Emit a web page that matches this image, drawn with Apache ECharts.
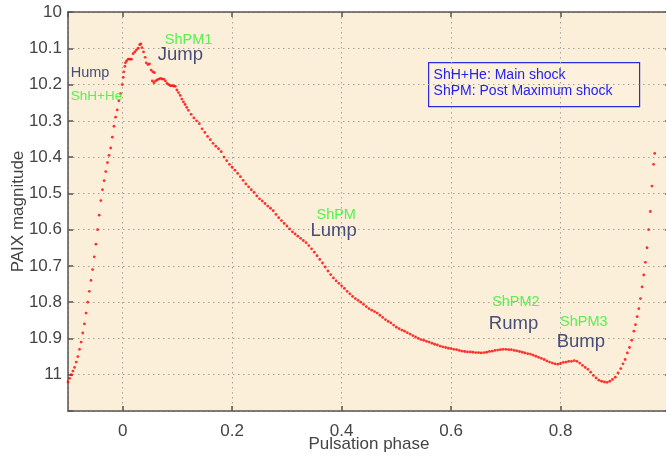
<!DOCTYPE html>
<html>
<head>
<meta charset="utf-8">
<script src="https://cdn.jsdelivr.net/npm/echarts@6/dist/echarts.min.js"></script>
<style>html,body{margin:0;padding:0;background:#fff}#c{width:666px;height:456px}</style>
</head>
<body>
<div id="c"></div>
<script>
// Pulsation phase (x) and PAIX magnitude (y)
const phase = [
-0.100,-0.097,-0.094,-0.091,-0.088,-0.085,-0.082,-0.079,-0.076,-0.073,-0.070,-0.067,-0.064,-0.061,-0.058,-0.055,-0.052,-0.049,-0.046,-0.043,
-0.040,-0.037,-0.034,-0.031,-0.028,-0.025,-0.022,-0.019,-0.016,-0.013,-0.010,-0.007,-0.004,-0.001,0.001,0.002,0.004,0.005,0.007,0.010,
0.013,0.016,0.019,0.022,0.025,0.028,0.031,0.033,0.035,0.038,0.041,0.043,0.046,0.049,0.052,0.055,0.058,
0.054,0.057,0.060,0.063,0.066,0.069,0.072,0.075,0.078,0.081,0.084,0.087,0.090,0.093,0.096,0.099,0.102,0.105,0.108,0.111,0.114,0.117,0.120,
0.125,0.130,0.135,0.140,0.145,0.150,0.155,0.160,0.165,0.170,0.175,0.180,0.185,0.190,0.195,0.200,0.205,0.210,0.215,0.220,
0.225,0.230,0.235,0.240,0.245,0.250,0.255,0.260,0.265,0.270,0.275,0.280,0.285,0.290,0.295,0.300,0.305,0.310,0.315,0.320,
0.325,0.330,0.335,0.340,0.345,0.350,0.355,0.360,0.365,0.370,0.375,0.380,0.385,0.390,0.395,0.400,0.405,0.410,0.415,0.420,
0.425,0.430,0.435,0.440,0.445,0.450,0.455,0.460,0.465,0.470,0.475,0.480,0.485,0.490,0.495,0.500,0.505,0.510,0.515,0.520,
0.525,0.530,0.535,0.540,0.545,0.550,0.555,0.560,0.565,0.570,0.575,0.580,0.585,0.590,0.595,0.600,0.605,0.610,0.615,0.620,
0.625,0.630,0.635,0.640,0.645,0.650,0.655,0.660,0.665,0.670,0.675,0.680,0.685,0.690,0.695,0.700,0.705,0.710,0.715,0.720,
0.725,0.730,0.735,0.740,0.745,0.750,0.755,0.760,0.765,0.770,0.775,0.780,0.785,0.790,0.795,0.800,0.805,0.810,0.815,0.820,
0.825,0.830,0.835,0.840,0.845,0.850,0.855,0.860,0.865,0.870,0.875,0.880,0.885,0.890,0.895,0.900,0.905,0.910,
0.914,0.918,0.922,0.926,0.930,0.934,0.937,0.940,0.943,0.946,0.949,0.952,0.955,0.958,0.961,0.964,0.967,0.970,0.972
];
const magnitude = [
11.02,11.01,11.00,10.99,10.98,10.965,10.95,10.93,10.91,10.885,10.86,10.83,10.80,10.77,10.74,10.71,10.675,10.64,10.60,10.56,
10.52,10.49,10.465,10.44,10.415,10.395,10.375,10.345,10.315,10.29,10.27,10.245,10.225,10.20,10.18,10.165,10.15,10.14,10.135,10.13,
10.13,10.13,10.115,10.11,10.105,10.10,10.09,10.088,10.098,10.11,10.125,10.14,10.145,10.143,10.16,10.165,10.167,
10.19,10.195,10.19,10.187,10.185,10.183,10.185,10.185,10.19,10.197,10.20,10.203,10.203,10.204,10.205,10.215,10.222,10.23,10.24,10.248,10.255,10.263,10.271,
10.282,10.292,10.30,10.308,10.322,10.332,10.343,10.352,10.362,10.37,10.377,10.385,10.40,10.41,10.42,10.428,10.436,10.445,10.454,10.464,
10.474,10.482,10.49,10.497,10.507,10.515,10.521,10.528,10.535,10.541,10.548,10.558,10.567,10.575,10.583,10.59,10.598,10.606,10.612,10.618,
10.624,10.63,10.636,10.644,10.653,10.662,10.672,10.682,10.692,10.703,10.714,10.724,10.733,10.741,10.748,10.755,10.762,10.77,10.777,10.784,
10.79,10.795,10.80,10.806,10.812,10.818,10.822,10.826,10.83,10.836,10.842,10.848,10.853,10.857,10.863,10.869,10.873,10.877,10.88,10.884,
10.888,10.892,10.896,10.90,10.903,10.905,10.908,10.91,10.913,10.916,10.918,10.921,10.923,10.925,10.927,10.928,10.93,10.931,10.933,10.935,
10.936,10.937,10.937,10.938,10.939,10.939,10.94,10.939,10.938,10.936,10.935,10.933,10.932,10.931,10.93,10.93,10.931,10.931,10.933,10.934,
10.936,10.938,10.94,10.942,10.943,10.946,10.949,10.952,10.955,10.958,10.962,10.965,10.968,10.97,10.971,10.969,10.966,10.965,10.963,10.963,
10.961,10.963,10.968,10.974,10.98,10.985,10.993,11.002,11.009,11.015,11.018,11.02,11.021,11.018,11.013,11.007,10.995,10.983,
10.97,10.958,10.94,10.925,10.905,10.88,10.862,10.84,10.818,10.79,10.758,10.725,10.69,10.65,10.60,10.55,10.48,10.42,10.39
];
// Annotations (text, phase, magnitude, kind)
const annoText  = ['Hump','ShH+He','ShPM1','Jump','ShPM','Lump','ShPM2','Rump','ShPM3','Bump'];
const annoPhase = [-0.095,-0.095,0.077,0.064,0.354,0.343,0.675,0.669,0.799,0.793];
const annoMag   = [10.168,10.231,10.077,10.118,10.560,10.604,10.800,10.860,10.854,10.909];
const annoKind  = ['name','shockS','shock','nameL','shock','nameL','shock','nameL','shock','nameL'];
const boxLines  = ['ShH+He: Main shock','ShPM: Post Maximum shock'];
const yTicks = [10,10.1,10.2,10.3,10.4,10.5,10.6,10.7,10.8,10.9,11];

const pts = phase.map((p,i)=>[p, magnitude[i]]);
const styles = {
  name:   {color:'#172463', fontSize:14.5},
  nameL:  {color:'#172463', fontSize:18.5},
  shock:  {color:'#2ef02e', fontSize:14.5},
  shockS: {color:'#2ef02e', fontSize:13.5}
};
const annoData = annoText.map((t,i)=>({
  value:[annoPhase[i], annoMag[i]],
  label:Object.assign({show:true, formatter:t, position:[0,0], align:'left', verticalAlign:'middle', fontFamily:'Liberation Sans'}, styles[annoKind[i]])
}));

const font = 'Liberation Sans';
const axisCol = '#555';
const gridLine = {show:true, lineStyle:{color:'#a8a39a', type:[1.5,3.5], width:1}};
const chart = echarts.init(document.getElementById('c'), null, {renderer:'canvas'});
chart.setOption({
  animation:false,
  backgroundColor:'#ffffff',
  grid:{left:68, top:12, right:-4, bottom:45, outerBoundsMode:'none', containLabel:false,
        show:true, backgroundColor:'#fcefda', borderWidth:0},
  xAxis:[{
    type:'value', min:-0.1, max:1.0, splitNumber:5,
    name:'Pulsation phase', nameLocation:'middle', nameGap:25, nameMoveOverlap:false,
    nameTextStyle:{fontFamily:font, fontSize:17, color:'#444'},
    axisLine:{show:true, onZero:false, lineStyle:{color:axisCol, width:1.5}},
    axisTick:{show:true, inside:true, length:5, lineStyle:{color:axisCol, width:1.5}},
    axisLabel:{showMinLabel:false, fontFamily:font, fontSize:17, color:'#444', margin:12,
      formatter:v=>String(Math.round(v*10)/10)},
    splitLine:gridLine
  },{
    type:'value', min:-0.1, max:1.0, splitNumber:5, position:'top',
    axisLine:{show:true, onZero:false, lineStyle:{color:axisCol, width:1.5}},
    axisTick:{show:true, inside:true, length:5, lineStyle:{color:axisCol, width:1.5}},
    axisLabel:{show:false}, splitLine:{show:false}
  }],
  yAxis:[{
    type:'value', inverse:true, min:10, max:11.1, interval:0.1,
    name:'PAIX magnitude', nameLocation:'middle', nameGap:41, nameMoveOverlap:false,
    nameTextStyle:{fontFamily:font, fontSize:17, color:'#444'},
    axisLine:{show:true, onZero:false, lineStyle:{color:axisCol, width:1.5}},
    axisTick:{show:true, inside:true, length:5, lineStyle:{color:axisCol, width:1.5}},
    axisLabel:{fontFamily:font, fontSize:17, color:'#444', margin:6,
      formatter:v=>{const r=Math.round(v*10)/10; return yTicks.indexOf(r)>=0 ? String(r) : '';}},
    splitLine:gridLine
  },{
    type:'value', inverse:true, min:10, max:11.1, interval:0.1, position:'right',
    axisLine:{show:true, onZero:false, lineStyle:{color:axisCol, width:1.5}},
    axisTick:{show:true, inside:true, length:5, lineStyle:{color:axisCol, width:1.5}},
    axisLabel:{show:false}, splitLine:{show:false}
  }],
  series:[{
    type:'scatter', data:pts, symbolSize:2.8, itemStyle:{color:'#ff0000'}, silent:true
  },{
    type:'scatter', data:annoData, symbolSize:0.01, itemStyle:{color:'transparent'}, silent:true, z:5
  }],
  graphic:[{
    type:'group', left:428, top:62, children:[
      {type:'rect', shape:{x:0,y:0,width:211,height:44}, style:{fill:'#fdf1de', stroke:'#2b2bdc', lineWidth:1.2}},
      {type:'text', x:5, y:5, style:{text:boxLines.join('\n'), fill:'#2222ee', font:'14px "Liberation Sans"', lineHeight:16}}
    ]
  }]
});
</script>
</body>
</html>
